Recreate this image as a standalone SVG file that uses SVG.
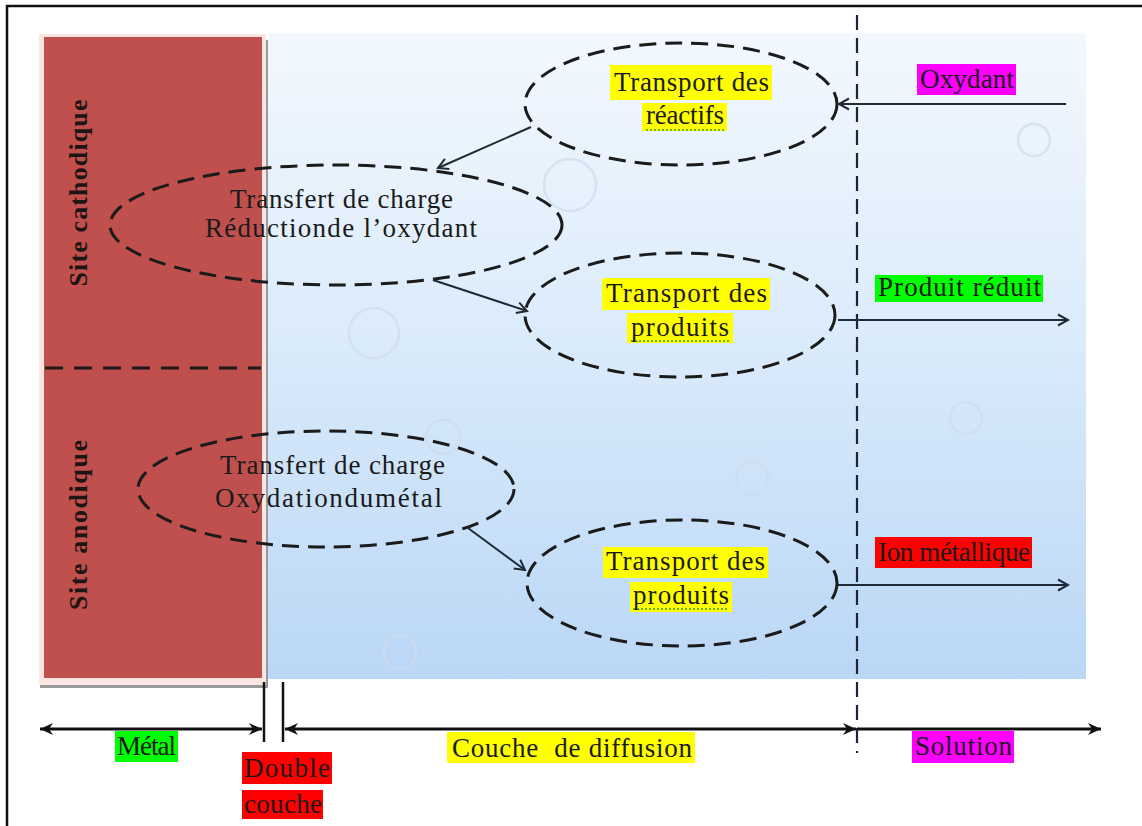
<svg xmlns="http://www.w3.org/2000/svg" width="1142" height="826" viewBox="0 0 1142 826">
  <defs>
    <linearGradient id="blueGrad" x1="0" y1="0" x2="0" y2="1">
      <stop offset="0" stop-color="#f2f8fe"/>
      <stop offset="0.45" stop-color="#dcecfb"/>
      <stop offset="1" stop-color="#bad7f6"/>
    </linearGradient>
    <marker id="open" viewBox="0 0 14 14" refX="12" refY="7" markerWidth="14" markerHeight="14" markerUnits="userSpaceOnUse" orient="auto">
      <path d="M2,1.5 L12,7 L2,12.5" fill="none" stroke="#1f2a36" stroke-width="2"/>
    </marker>
    <marker id="axis" viewBox="0 0 14 14" refX="13" refY="7" markerWidth="14" markerHeight="14" markerUnits="userSpaceOnUse" orient="auto-start-reverse">
      <path d="M0,1 L13,7 L0,13 L4,7 z" fill="#111"/>
    </marker>
    <style>
      .ell { fill: none; stroke: #1b1b1b; stroke-width: 3; stroke-dasharray: 17 9; }
      .txt { font-family: "Liberation Serif", "DejaVu Serif", serif; font-size: 27px; fill: #1a1a1a; }
      .site { font-family: "Liberation Serif", "DejaVu Serif", serif; font-size: 26px; font-weight: bold; fill: #1e1414; }
      .conn { stroke: #1f2a36; stroke-width: 2; fill: none; }
      .axisl { stroke: #111; stroke-width: 3; fill: none; }
      .bubble { fill: none; stroke: #cfdcea; stroke-width: 2.5; opacity: 0.7; }
      .yel { fill: #ffff00; }
      .mag { fill: #ff00ff; }
      .grn { fill: #00ff00; }
      .red { fill: #ff0000; }
      .squig { stroke: #3a9a20; stroke-width: 1.5; stroke-dasharray: 2 2; fill: none; }
    </style>
  </defs>

  <!-- frame -->
  <rect x="0" y="0" width="1142" height="826" fill="#ffffff"/>
  <rect x="7" y="6" width="1145" height="830" fill="none" stroke="#111" stroke-width="2.5"/>

  <!-- solution / diffusion background -->
  <rect x="268" y="33" width="818" height="646" fill="url(#blueGrad)"/>

  <!-- bubbles -->
  <g id="bubbles">
    <circle class="bubble" cx="570" cy="185" r="26"/>
    <circle class="bubble" cx="1034" cy="140" r="16"/>
    <circle class="bubble" cx="374" cy="333" r="25"/>
    <circle class="bubble" cx="966" cy="418" r="16"/>
    <circle class="bubble" cx="443" cy="437" r="17"/>
    <circle class="bubble" cx="752" cy="478" r="16"/>
    <circle class="bubble" cx="400" cy="652" r="16"/>
  </g>

  <!-- metal block -->
  <g id="metal">
    <rect x="40" y="40" width="228" height="648" fill="#9a9a9a"/>
    <rect x="39" y="34" width="227" height="651" fill="#fbe6e4"/>
    <rect x="44" y="37" width="218" height="641" fill="#c0504d"/>
    <line x1="45" y1="368" x2="261" y2="368" stroke="#1b1b1b" stroke-width="3" stroke-dasharray="18 11"/>
    <text class="site" transform="translate(87,193) rotate(-90)" text-anchor="middle" textLength="187">Site cathodique</text>
    <text class="site" transform="translate(87,525) rotate(-90)" text-anchor="middle" textLength="170">Site anodique</text>
  </g>

  <!-- interface dashed line -->
  <line x1="857" y1="15" x2="857" y2="753" stroke="#1a2535" stroke-width="2.2" stroke-dasharray="15 8"/>

  <!-- nodes -->
  <g id="transport-reactifs">
    <ellipse class="ell" cx="681" cy="104" rx="156" ry="61"/>
    <rect class="yel" x="610" y="65" width="162" height="35"/>
    <rect class="yel" x="642" y="103" width="85" height="28"/>
    <text class="txt" x="614" y="91" textLength="155">Transport des</text>
    <text class="txt" x="646" y="124" textLength="78">réactifs</text>
    <path class="squig" d="M646,130 L724,130"/>
  </g>

  <g id="transfert-reduction">
    <ellipse class="ell" cx="336" cy="225" rx="226" ry="60"/>
    <text class="txt" x="230" y="208" textLength="223">Transfert de charge</text>
    <text class="txt" x="205" y="237" textLength="272">Réductionde l’oxydant</text>
  </g>

  <g id="transport-produits-1">
    <ellipse class="ell" cx="680" cy="315" rx="155" ry="62"/>
    <rect class="yel" x="602" y="278" width="168" height="32"/>
    <rect class="yel" x="627" y="313" width="106" height="30"/>
    <text class="txt" x="606" y="302" textLength="161">Transport des</text>
    <text class="txt" x="631" y="336" textLength="98">produits</text>
    <path class="squig" d="M631,341 L729,341"/>
  </g>

  <g id="transfert-oxydation">
    <ellipse class="ell" cx="326" cy="489" rx="188" ry="58"/>
    <text class="txt" x="220" y="474" textLength="225">Transfert de charge</text>
    <text class="txt" x="215" y="507" textLength="227">Oxydationdumétal</text>
  </g>

  <g id="transport-produits-2">
    <ellipse class="ell" cx="682" cy="583" rx="155" ry="63"/>
    <rect class="yel" x="603" y="547" width="165" height="31"/>
    <rect class="yel" x="630" y="582" width="102" height="30"/>
    <text class="txt" x="606" y="570" textLength="159">Transport des</text>
    <text class="txt" x="633" y="604" textLength="96">produits</text>
    <path class="squig" d="M633,609 L729,609"/>
  </g>

  <!-- side labels -->
  <g id="label-oxydant">
    <rect class="mag" x="917" y="64" width="99" height="31"/>
    <text class="txt" x="920" y="88" textLength="94" fill="#3a0a3a">Oxydant</text>
  </g>
  <g id="label-produit-reduit">
    <rect class="grn" x="875" y="275" width="168" height="27"/>
    <text class="txt" x="878" y="296" textLength="163">Produit réduit</text>
  </g>
  <g id="label-ion">
    <rect class="red" x="875" y="537" width="157" height="31"/>
    <text class="txt" x="878" y="561" textLength="152">Ion métallique</text>
  </g>

  <!-- connectors -->
  <g id="connectors">
    <line class="conn" x1="1066" y1="104" x2="839" y2="104" marker-end="url(#open)"/>
    <line class="conn" x1="531" y1="127" x2="438" y2="168" marker-end="url(#open)"/>
    <line class="conn" x1="433" y1="280" x2="527" y2="311" marker-end="url(#open)"/>
    <line class="conn" x1="838" y1="320" x2="1068" y2="320" marker-end="url(#open)"/>
    <line class="conn" x1="468" y1="528" x2="525" y2="570" marker-end="url(#open)"/>
    <line class="conn" x1="838" y1="585" x2="1068" y2="585" marker-end="url(#open)"/>
  </g>

  <!-- bottom axis -->
  <g id="axis">
    <line x1="264" y1="682" x2="264" y2="742" stroke="#111" stroke-width="2.5"/>
    <line x1="283" y1="682" x2="283" y2="742" stroke="#111" stroke-width="2.5"/>
    <line class="axisl" x1="40" y1="729" x2="262" y2="729" marker-start="url(#axis)" marker-end="url(#axis)"/>
    <line class="axisl" x1="285" y1="729" x2="856" y2="729" marker-start="url(#axis)" marker-end="url(#axis)"/>
    <line class="axisl" x1="857" y1="729" x2="1101" y2="729" marker-end="url(#axis)"/>
  </g>

  <g id="label-metal">
    <rect class="grn" x="115" y="731" width="63" height="31"/>
    <text class="txt" x="117" y="755" textLength="59">Métal</text>
  </g>
  <g id="label-double-couche">
    <rect class="red" x="242" y="752" width="90" height="32"/>
    <text class="txt" x="244" y="777" textLength="86">Double</text>
    <rect class="red" x="242" y="790" width="81" height="29"/>
    <text class="txt" x="244" y="813" textLength="78">couche</text>
  </g>
  <g id="label-couche-diffusion">
    <rect class="yel" x="447" y="732" width="248" height="31"/>
    <text class="txt" x="452" y="757" textLength="240" xml:space="preserve">Couche  de diffusion</text>
  </g>
  <g id="label-solution">
    <rect class="mag" x="912" y="731" width="102" height="32"/>
    <text class="txt" x="915" y="755" textLength="97" fill="#3a0a3a">Solution</text>
  </g>
</svg>
